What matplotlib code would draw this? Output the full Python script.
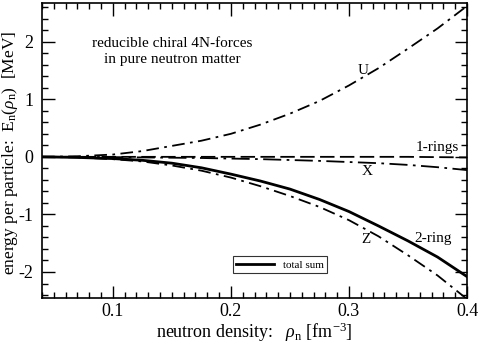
import matplotlib
matplotlib.use("Agg")
import matplotlib.pyplot as plt
import numpy as np

plt.rcParams['font.family'] = ['Liberation Serif', 'DejaVu Serif']
plt.rcParams['mathtext.fontset'] = 'custom'
plt.rcParams['mathtext.rm'] = 'Liberation Serif'
plt.rcParams['mathtext.it'] = 'Liberation Serif:italic'
plt.rcParams['axes.unicode_minus'] = False

# neutron density grid and curves
rho = [0.04, 0.07, 0.10, 0.125, 0.15, 0.175, 0.20, 0.225, 0.25, 0.275, 0.30, 0.325, 0.35, 0.375, 0.40]
u_curve = [0.0, 0.01, 0.04, 0.10, 0.19, 0.28, 0.40, 0.56, 0.75, 0.97, 1.24, 1.54, 1.88, 2.23, 2.62]
one_rings = [0.0, 0.0, 0.0, 0.0, 0.0, 0.0, 0.0, 0.0, 0.0, 0.0, 0.0, 0.0, 0.0, -0.005, -0.01]
x_curve = [0.0, 0.0, -0.005, -0.01, -0.015, -0.02, -0.03, -0.04, -0.055, -0.07, -0.09, -0.11, -0.14, -0.18, -0.23]
z_curve = [0.0, -0.01, -0.04, -0.08, -0.15, -0.24, -0.36, -0.51, -0.68, -0.87, -1.10, -1.38, -1.71, -2.06, -2.47]
total = [0.0, -0.01, -0.03, -0.06, -0.11, -0.19, -0.30, -0.42, -0.56, -0.74, -0.95, -1.20, -1.46, -1.74, -2.08]

fig = plt.figure(figsize=(4.79, 3.46), dpi=100)
ax = fig.add_axes([0.0877, 0.139, 0.8873, 0.852])

ax.plot(rho, u_curve, color='black', lw=1.3, dashes=(7, 3, 1.5, 3))
ax.plot(rho, one_rings, color='black', lw=1.3, dashes=(8, 3))
ax.plot(rho, x_curve, color='black', lw=1.3, dashes=(10, 3, 1.5, 3))
ax.plot(rho, z_curve, color='black', lw=1.3, dashes=(7, 3, 1.5, 3))
ax.plot(rho, total, color='black', lw=2.0, label='total sum')

ax.set_xlim(0.04, 0.4)
ax.set_ylim(-2.45, 2.67)
ax.set_xticks([0.1, 0.2, 0.3, 0.4])
ax.set_xticklabels(['0.1', '0.2', '0.3', '0.4'])
ax.set_yticks([-2, -1, 0, 1, 2])
ax.set_xticks(np.arange(0.04, 0.401, 0.01), minor=True)
ax.set_yticks(np.arange(-2.4, 2.61, 0.2), minor=True)
ax.tick_params(which='both', direction='in', top=True, right=True, labelsize=13)
ax.tick_params(axis='x', pad=4)
ax.tick_params(axis='y', pad=6)
ax.tick_params(which='major', length=9, width=1)
ax.tick_params(which='minor', length=4, width=1)
for s in ax.spines.values():
    s.set_linewidth(1.2)

ax.set_xlabel(r'neutron density:   $\rho_\mathrm{n}$ [fm$^{-3}$]', fontsize=13, labelpad=0)
fig.text(10 / 479, 1 - 153 / 346, r'energy per particle:  E$_\mathrm{n}$($\rho_\mathrm{n}$)  [MeV]',
         fontsize=12.5, rotation=90, ha='center', va='center')

ax.text(0.150, 1.83, 'reducible chiral 4N-forces\nin pure neutron matter', fontsize=11,
        ha='center', va='center', linespacing=1.35)
ax.text(0.312, 1.50, 'U', fontsize=11, ha='center', va='center')
ax.text(0.375, 0.17, '1-rings', fontsize=11, ha='center', va='center')
ax.text(0.315, -0.26, 'X', fontsize=11, ha='center', va='center')
ax.text(0.314, -1.44, 'Z', fontsize=11, ha='center', va='center')
ax.text(0.371, -1.41, '2-ring', fontsize=11, ha='center', va='center')

leg = ax.legend(loc='lower left', bbox_to_anchor=(0.449, 0.085), fontsize=8,
                frameon=True, fancybox=False, edgecolor='black', handlelength=3.4,
                borderpad=0.3, borderaxespad=0)
leg.get_frame().set_linewidth(0.8)

fig.savefig('out.png', dpi=100)
